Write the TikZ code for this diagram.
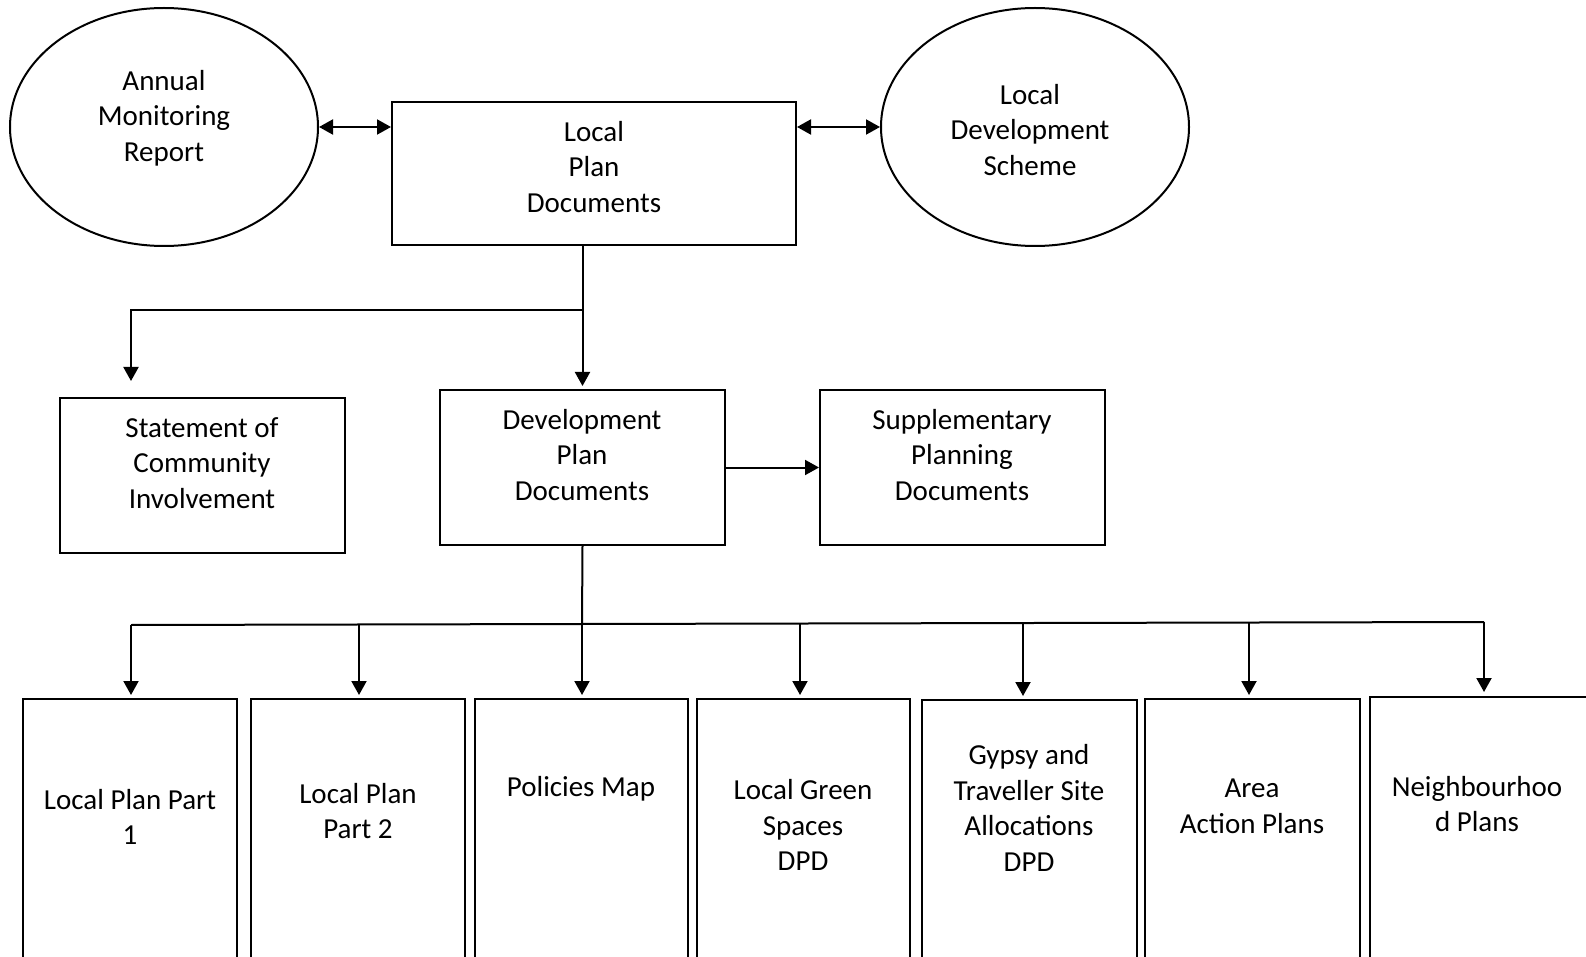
\documentclass[tikz,border=0pt]{standalone}
\usepackage{fontspec}
\setmainfont{Carlito}
\usetikzlibrary{shapes.geometric,arrows.meta}
\begin{document}
\begin{tikzpicture}[x=0.5pt,y=-0.5pt,
  box/.style={draw,line width=1pt,rectangle,inner sep=0pt},
  oval/.style={draw,line width=1pt,ellipse,inner sep=0pt,minimum width=154pt,minimum height=119pt},
  txt/.style={align=center,font=\fontsize{14.5}{17.8}\selectfont,inner sep=0pt},
  ln/.style={line width=1pt},
  arr/.style={ln,-{Triangle[length=7pt,width=7.5pt]}},
  dbl/.style={ln,{Triangle[length=7pt,width=7.5pt]}-{Triangle[length=7pt,width=7.5pt]}}]
\useasboundingbox (0,0) rectangle (1586,957);
% top row
\node[oval] (ame) at (164,127) {};
\node[txt] (ameT) at (164,118) {Annual\\Monitoring\\Report};
\node[oval] (lds) at (1035,127) {};
\node[txt] (ldsT) at (1030,130) {Local\\Development\\Scheme};
\node[box,minimum width=202pt,minimum height=71.5pt] (lpd) at (594,173.5) {};
\node[txt] (lpdT) at (594,167) {Local\\Plan\\Documents};
% middle row
\node[box,minimum width=142.5pt,minimum height=77.5pt] (sci) at (202.5,475.5) {};
\node[txt] (sciT) at (202,463) {Statement of\\Community\\Involvement};
\node[box,minimum width=142.5pt,minimum height=77.5pt] (dpd) at (582.5,467.5) {};
\node[txt] (dpdT) at (582,455) {Development\\Plan\\Documents};
\node[box,minimum width=142.5pt,minimum height=77.5pt] (spd) at (962.5,467.5) {};
\node[txt] (spdT) at (962,455) {Supplementary\\Planning\\Documents};
% bottom row
\node[box,minimum width=107pt,minimum height=150pt,anchor=north] (b1) at (130,698) {};
\node[txt] at (130,817) {Local Plan Part\\1};
\node[box,minimum width=107pt,minimum height=150pt,anchor=north] (b2) at (358,698) {};
\node[txt] at (358,811) {Local Plan\\Part 2};
\node[box,minimum width=106.5pt,minimum height=150pt,anchor=north] (b3) at (581.5,698) {};
\node[txt] at (581,789) {Policies Map};
\node[box,minimum width=106.5pt,minimum height=150pt,anchor=north] (b4) at (803.5,698) {};
\node[txt] at (803,825) {Local Green\\Spaces\\DPD};
\node[box,minimum width=107.5pt,minimum height=150pt,anchor=north] (b5) at (1029.5,699) {};
\node[txt] at (1029,808) {Gypsy and\\Traveller Site\\Allocations\\DPD};
\node[box,minimum width=107.5pt,minimum height=150pt,anchor=north] (b6) at (1252.5,698) {};
\node[txt] at (1252,806) {Area\\Action Plans};
\node[box,minimum width=120pt,minimum height=150pt,anchor=north] (b7) at (1490,696) {};
\node[txt] at (1477,804) {Neighbourhoo\\d Plans};
% connectors top
\draw[dbl] (ame.east) -- (lpd.west |- ame.east);
\draw[dbl] (lpd.east |- lds.west) -- (lds.west);
\coordinate (j1) at (582,310);
\coordinate (t1) at (131,381);
\draw[arr] (lpd.south -| dpd.north) -- ([yshift=1.5pt]dpd.north);
\draw[arr] (j1) -| (t1);
\draw[arr] (dpd.east) -- (spd.west);
% bottom bus
\coordinate (j2) at (582,625);
\draw[ln] (dpd.south) -- (j2);
\coordinate (a1) at (131,625);
\coordinate (a2) at (359,625);
\coordinate (a3) at (582,625);
\coordinate (a4) at (800,624);
\coordinate (a5) at (1023,623.5);
\coordinate (a6) at (1249,623);
\coordinate (a7) at (1484,622);
\draw[ln] (a1) -- (a7);
\draw[arr] (a1) -- ([yshift=1.5pt]a1 |- b1.north);
\draw[arr] (a2) -- ([yshift=1.5pt]a2 |- b2.north);
\draw[arr] (a3) -- ([yshift=1.5pt]a3 |- b3.north);
\draw[arr] (a4) -- ([yshift=1.5pt]a4 |- b4.north);
\draw[arr] (a5) -- ([yshift=1.5pt]a5 |- b5.north);
\draw[arr] (a6) -- ([yshift=1.5pt]a6 |- b6.north);
\draw[arr] (a7) -- ([yshift=2pt]a7 |- b7.north);
\end{tikzpicture}
\end{document}
